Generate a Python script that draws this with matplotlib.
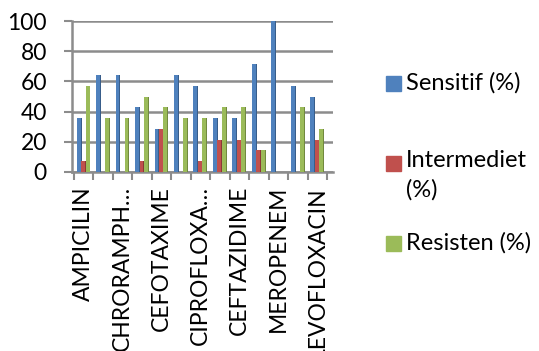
import numpy as np
import matplotlib
matplotlib.use("Agg")
import matplotlib.pyplot as plt
from matplotlib.patches import Rectangle

plt.rcParams['font.family'] = ['Lato', 'DejaVu Sans']

# Shown labels (every other antibiotic group carries a label on the axis)
tick_labels = ["AMPICILIN", "CHRORAMPH…", "CEFOTAXIME", "CIPROFLOXA…",
               "CEFTAZIDIME", "MEROPENEM", "LEVOFLOXACIN"]
n_groups = 13

series_names = ["Sensitif (%)", "Intermediet\n(%)", "Resisten (%)"]
sensitif = [35.71, 64.29, 64.29, 42.86, 28.57, 64.29, 57.14, 35.71, 35.71, 71.43, 100.0, 57.14, 50.0]
intermediet = [7.14, 0, 0, 7.14, 28.57, 0, 7.14, 21.43, 21.43, 14.29, 0, 0, 21.43]
resisten = [57.14, 35.71, 35.71, 50.0, 42.86, 35.71, 35.71, 42.86, 42.86, 14.29, 0, 42.86, 28.57]

colors = ["#4F81BD", "#C0504D", "#9BBB59"]
side_colors = ["#385D8A", "#8C3836", "#71893F"]

W, H = 539, 351
fig = plt.figure(figsize=(W / 100, H / 100), dpi=100)
ax = fig.add_axes([72 / W, (H - 172) / H, (333 - 72) / W, (172 - 21) / H])

x = np.arange(n_groups)
offsets = [-0.23, 0.0, 0.23]
bw = 0.2
for vals, off, c, sc in zip([sensitif, intermediet, resisten], offsets, colors, side_colors):
    ax.bar(x + off - 0.03, vals, width=bw, color=c, linewidth=0, zorder=3)
    # darker side face for a columnar look
    ax.bar(x + off + bw / 2 - 0.03 + 0.025, vals, width=0.05, color=sc, linewidth=0, zorder=3)

ax.set_xlim(-0.6, 12.81)
ax.set_ylim(0, 100)
ax.set_yticks(np.arange(0, 101, 20))
ax.yaxis.grid(True, color="#8c8c8c", linewidth=1.8, zorder=0)
ax.set_axisbelow(True)

for s in ["top", "right"]:
    ax.spines[s].set_visible(False)
for s in ["left", "bottom"]:
    ax.spines[s].set_color("#8c8c8c")
    ax.spines[s].set_linewidth(1.8)

ax.tick_params(axis="y", length=6, width=1.5, color="#8c8c8c", pad=12, labelsize=16.5)
ax.set_xticks(np.arange(0, n_groups, 2))
ax.set_xticklabels(tick_labels, rotation=90, fontsize=16.5, va="top", ha="center")
ax.tick_params(axis="x", which="major", length=0, pad=10)
ax.set_xticks(np.arange(-0.5, n_groups, 1), minor=True)
ax.tick_params(axis="x", which="minor", length=6, width=1.5, color="#8c8c8c")

# Legend on the right
legend_y = [83, 163, 243]
for name, c, ly in zip(series_names, colors, legend_y):
    fig.patches.append(Rectangle((386 / W, (H - ly - 7.5) / H), 15 / W, 15 / H,
                                 transform=fig.transFigure, color=c, figure=fig))
    if "\n" in name:
        fig.text(406 / W, (H - ly + 13) / H, name, fontsize=17, va="top", ha="left",
                 linespacing=1.45)
    else:
        fig.text(406 / W, (H - ly) / H, name, fontsize=17, va="center", ha="left")

fig.savefig("out.png", dpi=100)
